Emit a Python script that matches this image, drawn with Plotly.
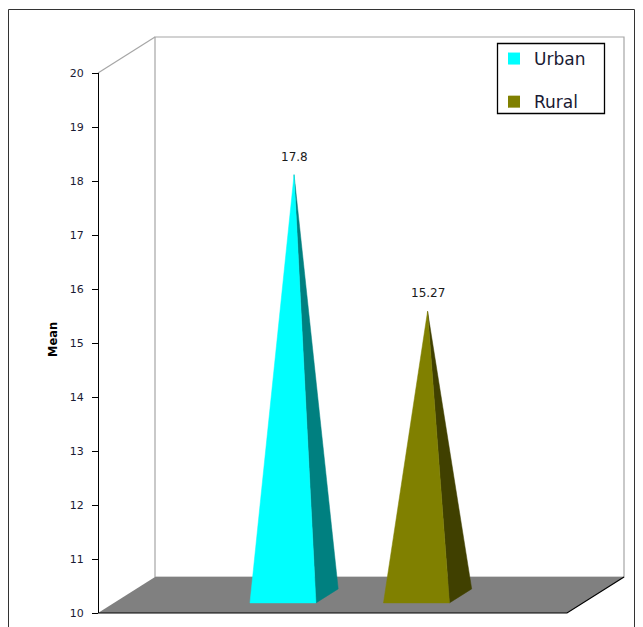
import plotly.graph_objects as go

# ---- data -------------------------------------------------------------
categories = ["Urban", "Rural"]
means = [17.8, 15.27]
front_colors = ["#00FFFF", "#808000"]
side_colors = ["#008080", "#404000"]
tick_values = [10, 11, 12, 13, 14, 15, 16, 17, 18, 19, 20]

# ---- figure geometry (pixels) ------------------------------------------
W, H = 643, 627
PX_PER_UNIT = 54.0          # vertical scale of the value axis
Y_MIN, Y_MAX = 10, 20
AXIS_X = 98                 # front-left edge of the 3D box
AXIS_BOTTOM = 613           # pixel row of the value 10 on the front plane
FLOOR_RIGHT = 567           # front-right edge of the floor
DEPTH_X = 57                # horizontal shift of the back plane
DEPTH_Y = 36 / PX_PER_UNIT  # vertical shift of the back plane (value units)
FIRST_CENTER = 267          # front-plane centre of the first pyramid
STEP = 133.5                # distance between pyramid centres
HALF_BASE = 33              # half width of a pyramid base
F0, F1 = 0.28, 0.67         # depth of pyramid base front / back
FM = (F0 + F1) / 2

X_LO, X_HI = 90, 632
PY_TOP, PY_BOT = 30, 621     # pixel extent of the drawing area
Y_LO = Y_MIN - (PY_BOT - AXIS_BOTTOM) / PX_PER_UNIT
Y_HI = Y_MIN + (AXIS_BOTTOM - PY_TOP) / PX_PER_UNIT
AXIS_TOP = AXIS_BOTTOM - (Y_MAX - Y_MIN) * PX_PER_UNIT


def px(x):
    return x / W


def py(y):
    return 1 - y / H


fig = go.Figure()

# floor
fx = [AXIS_X, FLOOR_RIGHT, FLOOR_RIGHT + DEPTH_X, AXIS_X + DEPTH_X, AXIS_X]
fy = [Y_MIN, Y_MIN, Y_MIN + DEPTH_Y, Y_MIN + DEPTH_Y, Y_MIN]
fig.add_trace(go.Scatter(x=fx, y=fy, fill="toself", fillcolor="#808080",
                         mode="lines", line=dict(width=0), hoverinfo="skip",
                         showlegend=False))
fig.add_trace(go.Scatter(x=[AXIS_X, FLOOR_RIGHT, FLOOR_RIGHT + DEPTH_X],
                         y=[Y_MIN, Y_MIN, Y_MIN + DEPTH_Y], mode="lines",
                         line=dict(color="#000000", width=1.2),
                         hoverinfo="skip", showlegend=False))

# pyramids
annotations = []
for i, (name, v) in enumerate(zip(categories, means)):
    cx = FIRST_CENTER + i * STEP
    xl, xr = cx - HALF_BASE, cx + HALF_BASE
    fl = (xl + F0 * DEPTH_X, Y_MIN + F0 * DEPTH_Y)
    fr = (xr + F0 * DEPTH_X, Y_MIN + F0 * DEPTH_Y)
    br = (xr + F1 * DEPTH_X, Y_MIN + F1 * DEPTH_Y)
    apex = (cx + FM * DEPTH_X, v + FM * DEPTH_Y)
    # right side face
    fig.add_trace(go.Scatter(x=[fr[0], br[0], apex[0], fr[0]],
                             y=[fr[1], br[1], apex[1], fr[1]],
                             fill="toself", fillcolor=side_colors[i],
                             mode="lines", line=dict(width=0.5, color=side_colors[i]),
                             hoverinfo="skip", showlegend=False))
    # front face
    fig.add_trace(go.Scatter(x=[fl[0], fr[0], apex[0], fl[0]],
                             y=[fl[1], fr[1], apex[1], fl[1]],
                             fill="toself", fillcolor=front_colors[i],
                             mode="lines", line=dict(width=0.5, color=front_colors[i]),
                             name=name, hoverinfo="skip", showlegend=False))
    annotations.append(dict(x=apex[0], y=apex[1], xref="x", yref="y2",
                            text=f"{v:g}", showarrow=False, yanchor="bottom",
                            yshift=9, font=dict(family="DejaVu Sans", size=12,
                                                color="#1a1a1a")))

# legend entries
for i, name in enumerate(categories):
    fig.add_trace(go.Scatter(x=[None], y=[None], yaxis="y2", mode="markers",
                             marker=dict(symbol="square", size=12,
                                         color=front_colors[i]),
                             name=name, legendgroup=name))

annotations.append(dict(x=px(44), y=py(340), xref="paper", yref="paper",
                        text="<b>Mean</b>", textangle=-90, showarrow=False,
                        font=dict(family="DejaVu Sans", size=11.5, color="#000000")))

shapes = [
    # back wall
    dict(type="rect", xref="x", yref="y", x0=AXIS_X + DEPTH_X, x1=FLOOR_RIGHT + DEPTH_X,
         y0=Y_MIN + DEPTH_Y, y1=Y_MAX + DEPTH_Y, line=dict(color="#a6a6a6", width=1.2),
         fillcolor="white", layer="below"),
    # top edge of the left wall
    dict(type="line", xref="x", yref="y", x0=AXIS_X, x1=AXIS_X + DEPTH_X,
         y0=Y_MAX, y1=Y_MAX + DEPTH_Y, line=dict(color="#a6a6a6", width=1.2),
         layer="below"),
    # outer frame
    dict(type="rect", xref="paper", yref="paper", x0=px(8.5), x1=px(634.5),
         y0=-0.05, y1=py(9.5), line=dict(color="#333333", width=1)),
    # legend box
    dict(type="rect", xref="paper", yref="paper", x0=px(497.5), x1=px(604.5),
         y0=py(113.5), y1=py(43.5), line=dict(color="#000000", width=1.3),
         layer="above"),
]

fig.update_layout(
    width=W, height=H, autosize=False,
    margin=dict(l=0, r=0, t=0, b=0, pad=0, autoexpand=False),
    paper_bgcolor="white", plot_bgcolor="rgba(0,0,0,0)",
    xaxis=dict(domain=[px(X_LO), px(X_HI)], range=[X_LO, X_HI], visible=False),
    yaxis=dict(domain=[py(PY_BOT), py(PY_TOP)], range=[Y_LO, Y_HI], visible=False),
    yaxis2=dict(domain=[py(AXIS_BOTTOM), py(AXIS_TOP)], range=[Y_MIN, Y_MAX],
                anchor="free", position=px(AXIS_X), side="left", showline=True,
                linecolor="#000000", linewidth=1, ticks="outside", ticklen=6,
                tickcolor="#000000", tickvals=tick_values, showgrid=False,
                zeroline=False, ticklabelstandoff=6, automargin=False,
                tickfont=dict(family="DejaVu Sans", size=11, color="#1a1a33")),
    legend=dict(x=px(494), y=py(41), xanchor="left", yanchor="top",
                borderwidth=0, bgcolor="rgba(0,0,0,0)",
                font=dict(family="DejaVu Sans", size=17, color="#1a1a33"),
                tracegroupgap=18, itemsizing="constant"),
    shapes=shapes,
    annotations=annotations,
)

fig.write_html("out.html")
